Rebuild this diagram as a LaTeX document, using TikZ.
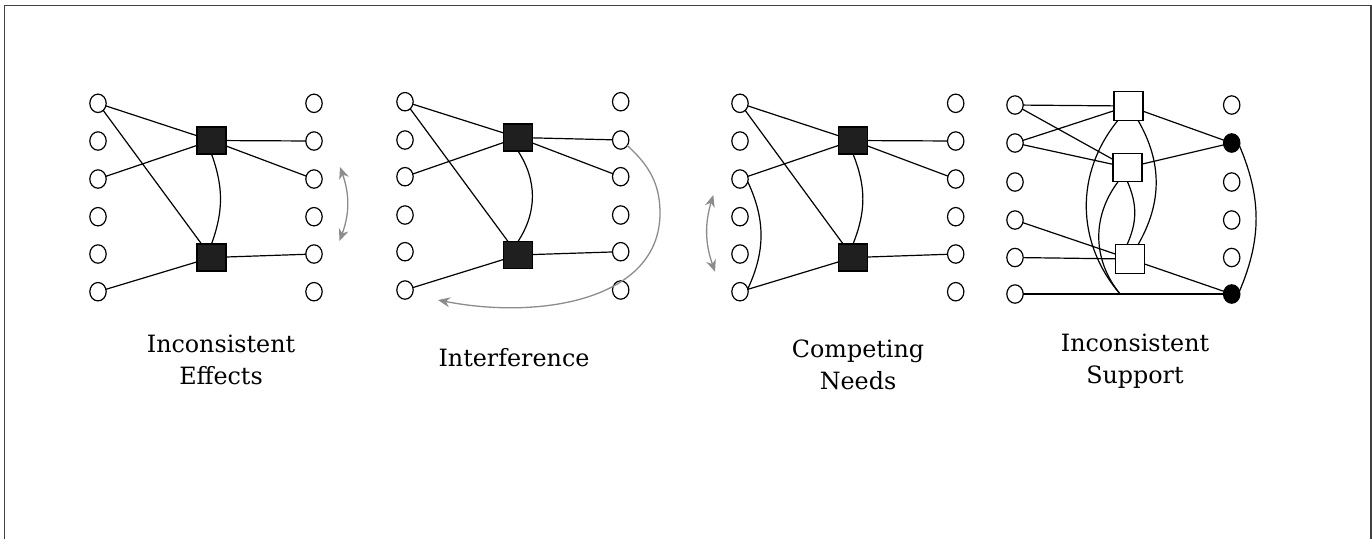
\documentclass[tikz,border=0pt]{standalone}
\usepackage{fontspec}
\setmainfont{DejaVu Serif}
\usetikzlibrary{shapes.geometric,arrows.meta,calc}
\begin{document}
\begin{tikzpicture}[x=0.5pt,y=-0.5pt,inner sep=0pt,outer sep=0pt,line width=0.6pt,
propnode/.style={draw,ellipse,minimum width=8.2pt,minimum height=9.2pt,fill=white},
propfull/.style={propnode,fill=black},
actblock/.style={draw,rectangle,fill=black!88,minimum width=14.5pt,minimum height=13.5pt},
openblock/.style={draw,rectangle,fill=white,minimum width=14.5pt,minimum height=14.3pt},
hint/.style={draw=black!45,line width=0.65pt},
paneltext/.style={align=center,font=\fontsize{11.9}{16}\selectfont}]
\useasboundingbox (0,0) rectangle (1372,538);
\draw[black!75,line width=0.65pt] (4.5,560) |- (1371,5.5) -- (1371,560);

% inconsistent effects
\foreach \i/\y in {1/103.3,2/141,3/179,4/216.7,5/254,6/291.7} {
  \node[propnode] (ieL\i) at (98,\y) {};
  \node[propnode] (ieR\i) at (314,\y) {};
}
\node[actblock] (ieA1) at (211.5,140.5) {};
\node[actblock] (ieA2) at (211.5,257.5) {};
\draw (ieL1) -- (ieA1);
\draw (ieL1) -- (ieA2);
\draw (ieL3) -- (ieA1);
\draw (ieL6) -- (ieA2);
\draw (ieA1) -- (ieR2);
\draw (ieA1) -- (ieR3);
\draw (ieA2) -- (ieR5);
\draw (ieA1.south) to[bend left=20] (ieA2.north);
\coordinate (ieT) at (340,167);
\coordinate (ieB) at (339.5,241);
\draw[hint,{Stealth[length=6pt,width=5pt]}-{Stealth[length=6pt,width=5pt]}] (ieT) to[bend left=20] (ieB);
\node[paneltext] (ieText) at (221,360.2) {Inconsistent\\Effects};

% interference
\foreach \i/\y in {1/101.7,2/140,3/176.7,4/215,5/251.7,6/290} {
  \node[propnode] (inL\i) at (405,\y) {};
  \node[propnode] (inR\i) at (620.7,\y) {};
}
\node[actblock] (inA1) at (518,137.5) {};
\node[actblock] (inA2) at (518,255) {};
\draw (inL1) -- (inA1);
\draw (inL1) -- (inA2);
\draw (inL3) -- (inA1);
\draw (inL6) -- (inA2);
\draw (inA1) -- (inR2);
\draw (inA1) -- (inR3);
\draw (inA2) -- (inR5);
\draw (inA1.south) to[bend left=33] (inA2.north);
\coordinate (inM) at (660,213);
\coordinate (inT) at (438,300);
\draw[hint,-{Stealth[length=6pt,width=5pt]}] (inR2.-40) .. controls (650,166) and (660,185) .. (inM)
  .. controls (660,300) and (540,320) .. (inT);
\node[paneltext] (inText) at (514,357.9) {Interference};

% competing needs
\foreach \i/\y in {1/103.3,2/141,3/179,4/216.7,5/254,6/291.7} {
  \node[propnode] (cnL\i) at (740,\y) {};
  \node[propnode] (cnR\i) at (955.7,\y) {};
}
\node[actblock] (cnA1) at (853,140.5) {};
\node[actblock] (cnA2) at (853,257.5) {};
\draw (cnL1) -- (cnA1);
\draw (cnL1) -- (cnA2);
\draw (cnL3) -- (cnA1);
\draw (cnL6) -- (cnA2);
\draw (cnA1) -- (cnR2);
\draw (cnA1) -- (cnR3);
\draw (cnA2) -- (cnR5);
\draw (cnA1.south) to[bend left=22] (cnA2.north);
\draw (cnL3.-20) to[bend left=25] (cnL6.20);
\coordinate (cnT) at (713.3,195);
\coordinate (cnB) at (715,271.7);
\draw[hint,{Stealth[length=6pt,width=5pt]}-{Stealth[length=6pt,width=5pt]}] (cnT) to[bend right=18] (cnB);
\node[paneltext] (cnText) at (858,365) {Competing\\Needs};

% inconsistent support
\foreach \i/\y/\s in {1/105/propnode,2/143/propfull,3/182/propnode,4/220/propnode,5/257.5/propnode,6/294/propfull} {
  \node[propnode] (isL\i) at (1015,\y) {};
  \node[\s] (isR\i) at (1231.7,\y) {};
}
\node[openblock] (isA1) at (1128.5,106) {};
\node[openblock] (isA2) at (1127.5,167.5) {};
\node[openblock] (isA3) at (1130,259) {};
\draw (isL1) -- (isA1);
\draw (isL1) -- (isA2);
\draw (isL2) -- (isA1);
\draw (isL2) -- (isA2);
\draw (isL4) -- (isA3);
\draw (isL5) -- (isA3);
\draw (isL6) -- (isR6);
\draw (isA1) -- (isR2);
\draw (isA2) -- (isR2);
\draw (isA3) -- (isR6);
\draw (isR2.-20) to[bend left=23] (isR6.20);
\coordinate (isN) at ($(isL6)!0.485!(isR6)$);
\draw ([xshift=-5.25pt]isA1.south) to[bend right=40] (isN);
\draw ([xshift=4.75pt]isA1.south) to[bend left=30] ([xshift=4pt]isA3.north);
\draw ([xshift=-4.75pt]isA2.south) to[bend right=38] (isN);
\draw (isA2.south) to[bend left=24] ([xshift=-1.5pt]isA3.north);
\node[paneltext] (isText) at (1135,361.4) {Inconsistent\\Support};
\end{tikzpicture}
\end{document}
